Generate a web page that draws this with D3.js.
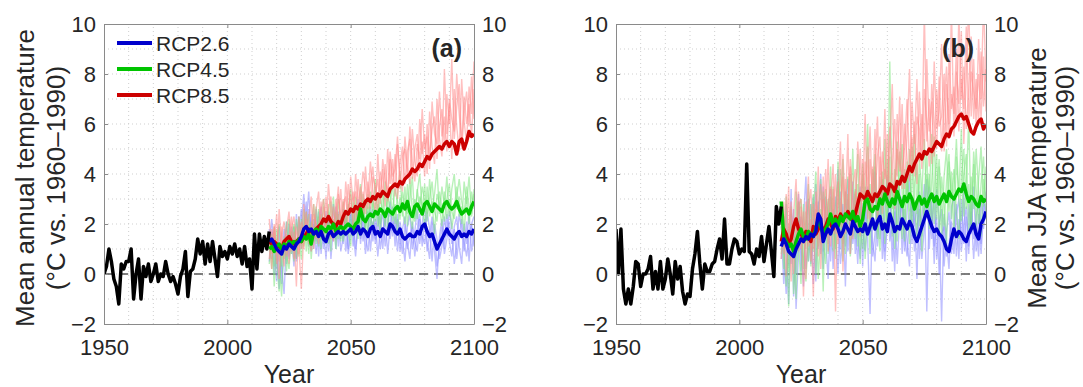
<!DOCTYPE html>
<html>
<head>
<meta charset="utf-8">
<script src="https://cdn.jsdelivr.net/npm/d3@7"></script>
<style>
  body { margin: 0; background: #fff; }
  text { font-family: Arial, "Liberation Sans", sans-serif; fill: #262626; }
</style>
</head>
<body>
<svg id="chart" width="1083" height="387"></svg>
<script>
// ---- data ----
const obsStart = 1950;
const projStart = 2017;
const xTicks = [1950, 2000, 2050, 2100];
const yTicks = [-2, 0, 2, 4, 6, 8, 10];
const scenarios = ['RCP2.6', 'RCP4.5', 'RCP8.5'];

// observed, 1950-2017
const obsAnnual = [
  0.0, 0.3, 1.0, 0.5, -0.2, -0.5, -1.2, 0.4, 0.2, 0.5,
  0.5, 1.0, -1.0, 0.0, 0.6, -1.0, 0.3, -0.1, 0.4, -0.3,
  0.0, 0.4, -0.3, 0.0, -0.1, 0.5, 0.0, -0.3, -0.1, -0.4,
  -0.8, -0.1, 0.2, 0.9, -0.9, 0.1, 0.2, 0.6, 1.4, 0.8,
  1.3, 0.4, 1.2, 0.5, 1.3, 0.6, -0.1, 1.1, 0.7, 0.9,
  0.6, 1.1, 0.8, 1.2, 0.7, 1.0, 0.4, 1.1, 0.3, 0.6,
  -0.6, 1.6, 0.2, 1.6, 0.9, 1.5, 1.0, 1.7
];
const obsJJA = [
  1.8, 0.0, 1.8, -0.6, -1.2, -0.6, -1.2, -0.5, 0.5, 0.4,
  -0.5, 0.0, 0.0, 0.2, 0.7, -0.6, 0.1, -0.6, 0.5, -0.6,
  -0.2, 0.6, 0.0, -0.8, 0.5, -0.2, 0.3, -0.7, -1.2, -0.8,
  -0.9, 0.2, 0.8, 1.7, 0.4, -0.6, 0.4, 0.1, 0.1, 0.4,
  0.5, 1.0, 1.4, 0.6, 2.2, 0.4, 0.4, 1.0, 1.4, 1.3,
  0.8, 1.0, 0.9, 4.4, 0.9, 0.8, 0.4, 1.0, 0.7, 1.5,
  0.5, 1.2, 1.9, 0.9, -0.1, 2.7, 2.0, 2.7
];

// ensemble means, 2017-2100
const rcp26Annual = [
  1.3, 1.4, 1.2, 1.0, 0.9, 0.8, 1.1, 1.0, 1.2, 1.1,
  1.0, 1.2, 1.3, 1.5, 1.8, 1.9, 1.7, 1.8, 1.6, 1.7,
  1.5, 1.7, 1.4, 1.3, 1.6, 1.7, 1.5, 1.6, 1.7, 1.6,
  1.7, 1.6, 1.7, 1.8, 1.6, 1.7, 1.9, 1.6, 1.8, 1.7,
  1.5, 1.8, 1.9, 1.6, 1.7, 1.5, 1.8, 1.7, 1.6, 2.0,
  1.9, 1.7, 1.6, 1.8, 1.5, 1.4, 1.5, 1.6, 1.5, 1.5,
  1.7, 1.6, 1.9, 2.0, 1.7, 1.5, 1.6, 1.3, 1.0, 1.2,
  1.4, 1.6, 1.8, 1.6, 1.5, 1.4, 1.6, 1.7, 1.5, 1.6,
  1.5, 1.7, 1.6, 1.8
];
const rcp45Annual = [
  1.0, 1.1, 0.9, 1.1, 1.2, 1.0, 1.2, 1.1, 1.3, 1.2,
  1.3, 1.2, 1.4, 1.3, 1.5, 1.4, 1.6, 1.2, 1.7, 1.8,
  1.6, 1.9, 1.8, 1.7, 1.9, 1.8, 2.0, 1.7, 1.8, 1.9,
  1.8, 1.9, 2.0, 1.9, 1.8, 2.0, 2.1, 2.6, 2.2, 2.1,
  2.3, 2.4, 2.3, 2.5, 2.4, 2.6, 2.5, 2.3, 2.6, 2.5,
  2.4, 2.6, 2.7, 2.5, 2.8, 2.6, 2.9, 2.5, 2.3, 2.7,
  2.8, 2.6, 2.4, 2.8, 2.9, 2.7, 2.5, 2.8, 2.7, 2.6,
  2.5, 2.8, 2.9, 2.7, 2.6, 2.7, 2.9, 2.6, 2.4, 2.5,
  2.6, 2.4, 2.7, 2.9
];
const rcp85Annual = [
  1.3, 1.2, 1.3, 1.2, 1.1, 1.0, 1.3, 1.4, 1.5, 1.3,
  1.2, 1.3, 1.4, 1.3, 1.5, 1.6, 1.8, 1.7, 1.6, 1.8,
  1.9, 2.0, 2.2, 2.1, 2.3, 2.1, 2.0, 1.9, 2.1, 2.0,
  2.3, 2.5, 2.4, 2.6, 2.5, 2.7, 2.6, 2.8, 2.7, 2.9,
  3.0, 2.9, 3.1, 3.0, 3.2, 3.1, 3.3, 3.2, 3.1, 3.4,
  3.5, 3.6, 3.5, 3.7, 3.6, 3.8, 3.9, 4.0, 4.2, 4.1,
  4.2, 4.4, 4.3, 4.5, 4.7, 4.6, 4.8, 4.9, 5.0, 5.1,
  5.0, 5.2, 5.3, 5.1, 5.3, 5.2, 4.8, 5.3, 5.4, 5.0,
  5.3, 5.7, 5.5, 5.6
];
const rcp26JJA = [
  1.1, 1.4, 1.2, 0.9, 0.8, 0.7, 1.0, 1.2, 1.4, 1.3,
  1.5, 1.4, 1.6, 1.5, 1.7, 2.4, 2.2, 1.3, 1.6, 1.8,
  1.6, 1.9, 2.0, 1.8, 1.5, 1.7, 2.0, 1.8, 1.6, 2.1,
  1.9, 1.7, 1.8, 1.7, 2.0, 1.6, 1.9, 2.2, 1.8, 2.1,
  2.3, 1.8, 2.0, 1.7, 2.4, 2.1, 1.7, 1.9, 1.8, 2.2,
  2.0, 1.8, 2.1, 1.9, 1.5, 1.3, 1.6, 1.9, 2.2, 2.5,
  2.2, 1.9, 1.7, 1.8, 1.6, 1.5, 1.3, 1.0, 0.9, 1.4,
  1.8, 1.5, 1.7, 1.6, 1.4, 1.3, 1.6, 1.8, 2.0, 1.6,
  1.4, 2.0, 2.2, 2.5
];
const rcp45JJA = [
  2.9, 1.5, 1.3, 1.1, 1.2, 0.9, 1.3, 1.6, 1.8, 1.5,
  1.4, 1.7, 1.6, 1.5, 1.8, 2.2, 1.9, 1.6, 1.8, 2.0,
  2.4, 2.0, 2.2, 1.9, 2.3, 2.1, 2.4, 2.3, 2.2, 2.5,
  2.1, 2.3, 1.9, 2.2, 2.9, 3.0, 2.6, 2.5, 2.7, 2.6,
  3.0, 2.8, 3.2, 2.9, 2.7, 3.0, 2.8, 3.3, 3.0, 2.7,
  3.1, 2.9, 3.2, 3.0, 2.6, 2.9, 3.1, 2.8, 3.0, 2.7,
  3.0, 3.2, 2.9, 3.1, 2.8, 3.0, 3.2, 2.9, 3.3, 3.1,
  3.0, 3.2, 3.4, 3.3, 3.6, 3.2, 2.9, 3.1, 3.0, 2.8,
  2.7, 3.1, 2.9, 3.0
];
const rcp85JJA = [
  1.3, 1.8, 1.6, 1.2, 1.4, 1.9, 2.2, 1.8, 1.6, 1.4,
  1.7, 1.5, 1.3, 1.9, 1.6, 1.8, 2.0, 1.7, 1.9, 2.2,
  2.0, 1.8, 2.3, 2.1, 2.4, 2.2, 2.3, 2.5, 2.3, 2.1,
  2.4, 2.8, 3.2, 3.1, 3.0, 3.3, 3.1, 2.9, 3.2, 3.1,
  3.3, 3.5, 3.4, 3.2, 3.6, 3.5, 3.3, 3.7, 3.6, 3.9,
  3.7, 4.0, 4.3, 4.1, 4.4, 4.6, 4.8, 4.6, 4.9, 4.8,
  5.0, 4.9, 5.1, 5.3, 5.2, 5.1, 5.4, 5.6, 5.5, 5.8,
  5.9, 6.1, 6.3, 6.4, 6.2, 6.3, 6.0, 5.7, 5.6, 5.9,
  6.1, 6.2, 5.8, 6.0
];

// individual model runs (a few per scenario), 2017-2100
const rcp26AnnualRuns = [
  [1.8, 0.6, 1.5, 0.2, 1.9, -0.4, 1.0, 2.1, 0.7, 1.6,
   0.3, 2.4, 1.1, 2.0, 3.2, 1.4, 2.6, 0.9, 2.2, 1.3,
   2.5, 0.8, 1.9, 0.6, 2.3, 1.5, 2.8, 1.0, 2.1, 1.4,
   2.6, 0.9, 1.7, 2.4, 1.1, 2.0, 3.0, 1.2, 2.3, 0.8,
   1.9, 2.7, 1.3, 2.2, 0.7, 1.8, 2.5, 1.1, 2.0, 2.9,
   1.5, 2.3, 0.9, 2.1, 1.4, 0.5, 1.9, 2.4, 1.0, 1.7,
   2.6, 1.2, 2.0, 2.8, 1.3, 0.6, 2.1, 0.9, -0.2, 1.5,
   2.2, 1.0, 2.4, 1.3, 0.7, 1.9, 2.3, 1.1, 0.4, 2.0,
   1.2, 2.5, 0.9, 1.6],
  [0.5, 1.7, 0.0, 1.3, -0.6, 0.9, 1.8, 0.4, 2.0, 0.8,
   1.9, 0.6, 2.3, 1.0, 2.0, 2.9, 1.1, 2.4, 1.0, 2.6,
   0.7, 2.2, 1.2, 2.5, 0.9, 2.0, 1.3, 2.7, 1.1, 2.3,
   1.2, 2.5, 0.8, 1.6, 2.4, 1.0, 1.9, 2.6, 1.3, 2.2,
   2.5, 0.9, 2.1, 1.4, 2.6, 1.0, 1.7, 2.3, 0.8, 1.9,
   2.7, 1.1, 2.2, 1.5, 0.8, 2.0, 1.2, 0.6, 2.1, 1.3,
   0.9, 2.2, 1.5, 1.2, 2.5, 1.8, 0.5, 2.0, 1.4, 0.6,
   1.1, 2.3, 1.5, 2.5, 1.9, 0.4, 1.2, 2.4, 1.8, 0.9,
   2.1, 0.5, 2.0, 2.3],
  [1.2, 2.2, 0.9, -0.3, 1.1, 0.3, -0.8, 1.5, 0.6, 1.9,
   1.2, 0.5, 1.7, 2.6, 1.3, 2.1, 3.3, 1.5, 2.0, 0.8,
   1.8, 2.7, 1.0, 1.6, 2.4, 0.6, 1.9, 1.4, 2.5, 0.9,
   1.5, 2.1, 1.0, 2.6, 1.7, 0.7, 2.2, 1.4, 2.7, 1.5,
   0.9, 2.0, 2.6, 1.2, 1.9, 2.4, 1.0, 2.2, 2.7, 1.4,
   2.1, 1.6, 2.4, 0.9, 1.8, 2.3, 1.0, 1.5, 1.9, 0.7,
   1.8, 2.4, 1.1, 2.2, 0.9, 1.6, 2.3, 1.7, 0.3, 1.0,
   1.9, 0.8, 1.4, 2.1, 1.2, 1.8, 0.6, 1.5, 2.2, 1.3,
   0.7, 1.6, 2.0, 1.1]
];
const rcp45AnnualRuns = [
  [0.4, 1.6, -0.5, 1.2, 2.0, 0.3, 1.5, 0.1, 2.2, 0.8,
   1.9, 0.6, 2.3, 1.1, 2.6, 0.9, 2.0, 1.5, 2.8, 1.2,
   2.3, 1.0, 3.0, 1.6, 2.5, 0.9, 3.1, 1.7, 2.4, 1.3,
   2.9, 1.5, 2.6, 3.4, 1.8, 2.7, 1.4, 3.6, 2.2, 3.0,
   1.6, 3.3, 2.5, 3.8, 1.9, 3.1, 2.4, 3.7, 1.8, 2.9,
   3.6, 2.0, 3.2, 4.1, 2.3, 3.5, 1.9, 3.0, 3.9, 2.2,
   3.3, 4.0, 2.5, 3.6, 2.1, 3.8, 2.6, 3.2, 4.2, 2.4,
   3.5, 2.7, 3.9, 2.3, 3.4, 4.0, 2.6, 3.1, 2.0, 3.7,
   2.8, 3.9, 2.4, 3.4],
  [1.5, 0.2, 1.9, 0.5, -0.7, 1.3, 0.6, 2.1, 0.9, 1.7,
   0.5, 2.2, 1.4, 0.6, 1.9, 2.5, 0.8, 2.1, 1.3, 2.7,
   1.1, 2.4, 1.9, 1.2, 2.8, 1.5, 2.2, 1.0, 3.0, 2.1,
   1.3, 2.4, 1.7, 1.1, 2.9, 1.9, 2.6, 1.5, 3.2, 1.8,
   2.7, 1.9, 3.0, 2.1, 2.8, 1.6, 3.4, 2.2, 2.9, 3.5,
   2.1, 2.8, 1.7, 3.1, 2.5, 2.0, 3.6, 2.4, 1.8, 3.0,
   2.2, 3.1, 2.7, 1.9, 3.5, 2.3, 2.9, 1.6, 3.2, 2.8,
   1.9, 3.3, 2.2, 3.0, 1.8, 2.6, 3.5, 2.3, 2.7, 1.7,
   3.1, 2.0, 3.3, 2.6],
  [0.9, 1.2, 0.3, 1.8, 0.6, -0.9, 1.4, 0.8, 0.2, 1.6,
   2.0, 1.0, 0.7, 2.2, 1.1, 1.7, 2.4, 0.6, 1.9, 1.5,
   2.6, 1.4, 1.7, 2.3, 1.2, 2.9, 1.6, 2.5, 1.4, 2.0,
   2.5, 1.6, 2.8, 2.0, 1.5, 3.1, 2.3, 2.0, 2.9, 1.7,
   3.2, 2.4, 1.8, 2.8, 3.1, 2.0, 2.6, 1.9, 3.3, 2.3,
   2.6, 3.4, 2.9, 2.2, 3.3, 2.7, 2.4, 3.8, 2.6, 2.1,
   3.4, 2.6, 3.5, 2.9, 2.4, 3.0, 3.7, 2.5, 2.1, 3.3,
   2.6, 2.1, 3.0, 3.6, 2.5, 2.2, 3.1, 3.8, 2.9, 2.4,
   3.5, 2.7, 2.3, 3.2]
];
const rcp85AnnualRuns = [
  [2.2, 0.8, 1.9, 0.4, 2.6, 1.1, 0.3, 1.8, 2.5, 0.9,
   1.7, -0.5, 2.3, 1.0, 2.8, 1.4, 2.2, 3.1, 1.0, 2.6,
   3.3, 1.5, 2.7, 1.8, 3.6, 2.4, 1.3, 3.0, 2.0, 3.4,
   1.8, 3.7, 2.5, 3.2, 1.9, 4.0, 2.8, 3.5, 2.2, 4.3,
   2.9, 4.5, 3.3, 2.4, 4.8, 3.0, 4.2, 2.7, 5.0, 3.6,
   4.6, 3.1, 5.2, 4.0, 3.3, 5.5, 4.3, 3.6, 5.8, 4.5,
   3.9, 6.2, 4.8, 5.6, 4.0, 6.5, 5.1, 4.4, 7.0, 5.4,
   4.7, 8.2, 5.6, 6.8, 4.6, 7.4, 5.9, 4.9, 7.8, 6.1,
   5.2, 7.5, 6.4, 8.5],
  [0.6, 1.8, 1.2, 2.4, 0.5, 1.6, 2.1, 0.7, 1.4, 2.3,
   0.6, 1.9, 1.1, -0.6, 1.7, 2.5, 1.2, 1.9, 2.8, 1.4,
   1.9, 2.9, 1.6, 3.1, 2.0, 1.4, 2.7, 1.6, 3.2, 2.3,
   3.0, 2.0, 3.6, 2.4, 3.3, 2.1, 3.8, 2.5, 3.3, 2.4,
   3.7, 2.6, 3.9, 3.5, 2.5, 4.1, 3.2, 4.4, 2.9, 4.6,
   3.4, 4.8, 3.0, 4.4, 5.1, 3.6, 4.9, 5.4, 3.8, 5.0,
   5.6, 4.1, 5.3, 3.9, 6.0, 4.7, 5.8, 6.3, 4.6, 5.9,
   6.6, 5.1, 7.2, 6.0, 8.6, 5.4, 6.7, 7.6, 5.0, 6.4,
   7.3, 5.9, 7.9, 6.2],
  [1.5, 0.2, 2.0, 1.0, -0.2, 1.9, 0.9, 1.6, 0.4, 1.8,
   2.3, 1.3, 0.8, 2.1, 1.0, 2.2, 1.6, 0.9, 2.4, 2.0,
   1.2, 2.5, 3.0, 1.9, 2.6, 3.1, 1.7, 2.4, 3.5, 1.8,
   2.7, 3.1, 2.0, 3.9, 2.9, 3.3, 2.2, 3.0, 4.1, 3.4,
   2.6, 3.6, 4.3, 3.1, 3.8, 2.8, 4.6, 3.7, 3.3, 4.9,
   3.9, 4.2, 5.5, 3.4, 4.7, 5.0, 3.9, 5.9, 4.5, 3.7,
   5.2, 4.6, 6.6, 5.0, 5.5, 4.2, 6.9, 5.6, 5.2, 7.3,
   5.5, 6.3, 4.9, 7.0, 6.2, 5.7, 8.0, 6.4, 5.3, 7.1,
   6.0, 6.8, 5.5, 7.4]
];
const rcp26JJARuns = [
  [1.9, -0.4, 2.8, 0.3, 3.4, -0.9, 1.6, 2.9, 0.1, 2.2,
   3.9, 0.5, 1.8, 3.1, -0.3, 2.5, 4.0, 0.9, 2.7, 1.2,
   3.4, 0.2, 2.1, 4.2, 1.0, 2.8, -0.5, 3.0, 1.6, 3.7,
   0.8, 2.4, 3.5, 0.3, 2.9, 1.4, -1.6, 2.6, 4.1, 1.1,
   3.2, 0.6, 2.7, 3.9, 1.3, 2.2, 0.1, 3.6, 1.8, 3.0,
   0.9, 2.5, 4.0, 1.2, 2.8, -0.2, 3.3, 1.5, 2.6, 3.8,
   1.0, 2.9, 0.4, 3.4, 2.1, -1.9, 2.4, 1.3, 0.2, 2.7,
   3.1, 0.7, 2.2, 1.5, 3.3, 0.5, 2.8, 1.6, 3.5, 0.9,
   2.4, 1.2, 3.0, 2.2],
  [0.6, 2.3, 1.0, -1.2, 2.4, 1.5, 0.0, 3.2, 1.1, -0.5,
   2.0, 3.0, 0.4, 1.7, 3.6, 1.0, 2.3, 0.2, 3.1, 2.4,
   0.5, 2.6, 1.5, 0.0, 3.3, 2.2, 1.1, 3.8, 0.8, 2.0,
   3.2, 1.5, 0.6, 2.8, 1.9, 3.5, 2.3, 0.7, 1.6, 3.3,
   1.4, 3.5, 0.9, 2.4, 3.0, 0.5, 2.9, 1.7, 3.4, 0.8,
   2.6, 1.3, 0.3, 3.1, 1.9, 2.7, 0.6, 2.2, 3.6, -1.5,
   2.8, 1.4, 3.2, 0.6, 2.0, 2.6, 0.3, 1.7, 2.5, 0.8,
   1.9, 2.8, 0.6, 3.0, 1.2, 2.3, 0.8, 2.9, 1.4, 2.1,
   0.7, 3.1, 1.8, 2.8],
  [1.4, 0.9, -0.8, 1.8, 0.4, 2.6, -1.4, 0.8, 2.3, 1.7,
   0.2, 1.5, 2.8, -0.4, 1.9, 2.9, 0.8, 3.5, 1.4, -0.2,
   2.4, 1.7, 3.1, 2.0, 0.4, 1.5, 3.3, 0.9, 2.5, 1.2,
   2.1, 0.4, 2.7, 1.8, 0.9, 2.4, 3.0, 1.3, 0.5, 2.6,
   2.9, 1.8, 0.5, 2.1, 3.4, 1.6, 2.5, 0.4, 2.2, 3.1,
   1.5, 0.7, 2.4, 3.0, 0.9, 1.9, 2.6, 0.6, 1.8, 2.9,
   3.5, 2.4, 1.1, 2.3, 0.0, 1.6, 1.9, 0.7, 1.2, 2.1,
   0.8, 2.4, 3.0, 0.9, 2.0, 2.7, 1.1, 2.5, 0.6, 2.3,
   2.9, 0.8, 2.5, 3.3]
];
const rcp45JJARuns = [
  [2.5, 0.2, 3.1, -1.3, 1.9, 0.6, 3.3, 1.2, -0.4, 2.8,
   1.0, 3.6, 0.3, 2.4, 4.1, 1.1, 2.6, -0.7, 3.4, 2.0,
   4.3, 0.9, 2.8, 3.7, 1.5, 4.6, 0.8, 3.2, 2.1, 5.0,
   1.4, 3.6, 0.4, 4.4, 2.5, 6.0, 1.9, 3.3, 4.8, 1.7,
   3.9, 2.2, 5.4, 1.6, 8.5, 2.6, 4.2, 1.3, 3.8, 5.2,
   2.0, 4.5, 1.2, 3.5, 5.6, 2.4, 4.0, 0.9, 3.1, 4.9,
   1.8, 3.7, 5.5, 2.2, 4.3, 1.4, 3.9, 5.0, 2.5, 4.1,
   1.6, 4.7, 3.0, 5.8, 2.3, 3.5, 6.2, 2.0, 4.4, 1.9,
   3.8, 5.1, 2.7, 4.3],
  [0.8, 2.4, 1.6, 0.1, 2.7, -0.8, 1.0, 2.9, 1.7, 0.2,
   2.5, 0.5, 1.9, 3.2, 0.0, 2.2, 3.8, 1.3, 0.4, 3.0,
   1.5, 3.5, 0.6, 2.3, 4.2, 1.2, 2.9, 3.9, 0.7, 2.6,
   3.4, 1.1, 2.8, 4.0, 0.6, 2.5, 3.6, 1.8, 4.3, 2.2,
   0.9, 4.1, 3.0, 2.0, 4.7, 1.5, 3.4, 5.3, 2.6, 1.4,
   4.2, 2.8, 5.0, 1.7, 3.6, 4.4, 1.9, 3.2, 5.4, 2.6,
   4.0, 2.1, 3.3, 4.8, 1.6, 3.9, 2.8, 1.2, 4.5, 3.0,
   4.2, 2.5, 1.4, 3.8, 5.0, 2.6, 3.6, 1.8, 4.9, 3.4,
   2.0, 3.6, 4.7, 2.4],
  [1.9, 1.1, -0.5, 2.0, 0.9, 1.5, -1.0, 2.2, 3.0, 0.7,
   -0.3, 1.8, 2.8, 0.9, 2.6, -0.2, 1.7, 3.3, 2.4, 0.8,
   3.1, 2.1, 1.0, 4.5, 2.4, 0.5, 3.3, 2.0, 4.0, 1.5,
   2.7, 4.8, 1.8, 1.0, 3.5, 2.9, 0.8, 4.2, 3.2, 1.4,
   2.5, 3.8, 1.2, 4.6, 2.9, 3.6, 1.0, 2.7, 4.9, 3.3,
   1.3, 3.9, 2.5, 5.1, 2.8, 1.5, 4.6, 3.3, 2.0, 4.0,
   3.1, 5.6, 2.0, 3.5, 4.6, 2.7, 1.9, 3.7, 4.8, 2.2,
   3.5, 5.4, 2.9, 2.1, 4.0, 4.8, 1.6, 3.9, 2.6, 5.0,
   3.3, 1.5, 3.8, 2.9]
];
const rcp85JJARuns = [
  [0.6, 2.9, 1.2, 3.5, -0.3, 2.4, 3.8, 0.9, 2.7, -0.9,
   2.1, 3.9, 0.5, 2.8, 1.4, 4.3, 0.2, 3.0, 2.2, 4.6,
   1.1, 3.4, -1.5, 3.7, 1.9, 4.8, 2.5, 5.6, 0.8, 3.5,
   4.2, 1.6, 5.0, 2.9, 6.4, 2.2, 4.6, 3.0, 5.8, 1.9,
   4.7, 3.3, 6.6, 2.7, 5.2, 7.6, 3.1, 5.0, 4.1, 6.8,
   3.4, 5.7, 8.2, 4.0, 6.1, 3.6, 7.3, 4.8, 10.5, 5.3,
   7.0, 4.4, 8.5, 5.8, 6.5, 9.2, 4.9, 7.6, 6.0, 10.6,
   5.5, 8.1, 6.8, 9.7, 5.2, 7.9, 10.8, 6.3, 8.6, 5.9,
   9.4, 7.0, 10.9, 7.7],
  [2.0, 0.8, 3.2, 1.5, 2.6, 0.0, 2.1, 3.3, 1.0, 2.5,
   -0.2, 2.6, 3.4, 1.0, 2.9, 0.7, 3.6, 1.8, 4.2, 0.9,
   2.8, 4.4, 1.6, 3.0, 5.3, 0.1, 3.8, 2.2, 4.6, 3.1,
   2.0, 5.3, 3.7, 1.8, 4.5, 3.4, 5.9, 2.6, 4.0, 6.3,
   2.9, 4.9, 3.8, 5.6, 3.0, 4.4, 6.2, 3.9, 7.1, 3.4,
   6.0, 4.6, 3.7, 6.9, 5.2, 7.8, 4.5, 6.4, 5.0, 8.6,
   5.7, 6.9, 4.7, 7.4, 5.9, 6.3, 8.0, 5.1, 8.8, 6.6,
   7.5, 5.9, 10.4, 7.0, 8.3, 5.8, 7.4, 9.5, 6.2, 7.8,
   6.0, 8.9, 6.7, 8.2],
  [1.5, 2.3, -0.1, 1.9, 2.9, 0.7, 1.6, 2.7, 3.0, 1.2,
   2.9, 1.1, 2.2, -0.9, 3.3, 2.0, 1.2, 3.9, 1.5, 2.8,
   3.5, 2.1, 4.0, 1.2, 2.6, 3.9, 1.6, 2.9, 4.3, 1.4,
   3.3, 2.7, 1.5, 4.6, 2.6, 5.1, 1.8, 4.3, 3.1, 4.7,
   5.5, 2.4, 4.2, 3.6, 5.9, 3.8, 2.6, 6.4, 4.5, 3.9,
   5.1, 7.0, 4.3, 5.5, 3.9, 6.3, 5.8, 4.2, 7.4, 6.0,
   4.3, 7.6, 6.1, 5.0, 7.9, 4.9, 6.8, 8.3, 5.4, 7.2,
   6.4, 9.0, 5.7, 7.8, 6.6, 9.9, 6.0, 8.1, 7.3, 6.6,
   8.0, 6.2, 8.7, 6.5]
];

// ---- styling ----
const plotW = 370, plotTop = 24, plotBottom = 324;
const meanColors = ['#0000cc', '#00c400', '#cc0000'];
const runColors = ['#8c8cff', '#80e680', '#ff8c8c'];

const panels = [
  { left: 104, tag: '(a)', obs: obsAnnual,
    means: [rcp26Annual, rcp45Annual, rcp85Annual],
    runs: [rcp26AnnualRuns, rcp45AnnualRuns, rcp85AnnualRuns],
    labels: ['Mean annual temperature', '(°C vs. 1960–1990)'],
    labelX: [34, 65], legend: true },
  { left: 616, tag: '(b)', obs: obsJJA,
    means: [rcp26JJA, rcp45JJA, rcp85JJA],
    runs: [rcp26JJARuns, rcp45JJARuns, rcp85JJARuns],
    labels: ['Mean JJA temperature', '(°C vs. 1960–1990)'],
    labelX: [1046, 1074], legend: false }
];

const svg = d3.select('#chart');

panels.forEach((p, pi) => {
  const x = d3.scaleLinear().domain([1950, 2100]).range([p.left, p.left + plotW]);
  const y = d3.scaleLinear().domain([-2, 10]).range([plotBottom, plotTop]);
  const g = svg.append('g');

  const clipId = 'clip' + pi;
  svg.append('clipPath').attr('id', clipId)
    .append('rect')
    .attr('x', x(1950)).attr('y', y(10))
    .attr('width', plotW).attr('height', plotBottom - plotTop);

  // dotted grid
  const grid = g.append('g').attr('stroke', '#cfcfcf').attr('stroke-width', 1)
    .attr('stroke-dasharray', '1,3');
  grid.selectAll('line.v').data(d3.range(1960, 2100, 10)).join('line')
    .attr('x1', d => x(d)).attr('x2', d => x(d))
    .attr('y1', y(-2)).attr('y2', y(10));
  grid.selectAll('line.h').data(d3.range(-1, 10, 1)).join('line')
    .attr('x1', x(1950)).attr('x2', x(2100))
    .attr('y1', d => y(d)).attr('y2', d => y(d));

  // zero line
  g.append('line')
    .attr('x1', x(1950)).attr('x2', x(2100))
    .attr('y1', y(0)).attr('y2', y(0))
    .attr('stroke', '#555').attr('stroke-width', 1.3)
    .attr('stroke-dasharray', '9,6');

  const plot = g.append('g').attr('clip-path', `url(#${clipId})`);
  const projLine = d3.line().x((d, i) => x(projStart + i)).y(d => y(d));
  const obsLine = d3.line().x((d, i) => x(obsStart + i)).y(d => y(d));

  // individual runs
  p.runs.forEach((set, si) => {
    set.forEach(run => {
      plot.append('path').datum(run)
        .attr('d', projLine)
        .attr('fill', 'none')
        .attr('stroke', runColors[si])
        .attr('stroke-width', 1.4)
        .attr('stroke-opacity', 0.55);
    });
  });

  // ensemble means (red underneath, blue on top)
  [2, 1, 0].forEach(si => {
    plot.append('path').datum(p.means[si])
      .attr('d', projLine)
      .attr('fill', 'none')
      .attr('stroke', meanColors[si])
      .attr('stroke-width', 3.5)
      .attr('stroke-linejoin', 'round');
  });

  // observations
  plot.append('path').datum(p.obs)
    .attr('d', obsLine)
    .attr('fill', 'none')
    .attr('stroke', '#000')
    .attr('stroke-width', 3.5)
    .attr('stroke-linejoin', 'round');

  // axes (ticks inward, box)
  const styleAxis = sel => {
    sel.select('.domain').attr('stroke', '#8a8a8a');
    sel.selectAll('.tick line').attr('stroke', '#8a8a8a');
    sel.selectAll('text').attr('font-size', 22).attr('fill', '#262626')
      .attr('font-family', 'Arial, "Liberation Sans", sans-serif');
  };
  g.append('g').attr('transform', `translate(0,${plotBottom})`)
    .call(d3.axisBottom(x).tickValues(xTicks).tickFormat(d3.format('d'))
      .tickSizeInner(-4).tickSizeOuter(0).tickPadding(15))
    .call(styleAxis);
  g.append('g').attr('transform', `translate(0,${plotTop})`)
    .call(d3.axisTop(x).tickValues(xTicks).tickFormat('')
      .tickSizeInner(-4).tickSizeOuter(0))
    .call(styleAxis);
  g.append('g').attr('transform', `translate(${x(1950)},0)`)
    .call(d3.axisLeft(y).tickValues(yTicks).tickSizeInner(-4).tickSizeOuter(0).tickPadding(8))
    .call(styleAxis);
  g.append('g').attr('transform', `translate(${x(2100)},0)`)
    .call(d3.axisRight(y).tickValues(yTicks).tickSizeInner(-4).tickSizeOuter(0).tickPadding(8))
    .call(styleAxis);

  // x label
  g.append('text')
    .attr('x', x(2025)).attr('y', 383)
    .attr('text-anchor', 'middle')
    .attr('font-size', 25)
    .text('Year');

  // y labels (rotated)
  p.labels.forEach((lab, li) => {
    g.append('text')
      .attr('transform', `translate(${p.labelX[li]},${178}) rotate(-90)`)
      .attr('text-anchor', 'middle')
      .attr('font-size', 26)
      .text(lab);
  });

  // panel tag
  g.append('text')
    .attr('x', x(2100) - 12).attr('y', 57)
    .attr('text-anchor', 'end')
    .attr('font-size', 25)
    .attr('font-weight', 'bold')
    .text(p.tag);

  // legend
  if (p.legend) {
    const leg = g.append('g');
    scenarios.forEach((s, si) => {
      const ly = 43 + si * 26;
      leg.append('line')
        .attr('x1', 117).attr('x2', 152)
        .attr('y1', ly).attr('y2', ly)
        .attr('stroke', meanColors[si]).attr('stroke-width', 4);
      leg.append('text')
        .attr('x', 156).attr('y', ly + 8)
        .attr('font-size', 21)
        .text(s);
    });
  }
});
</script>
</body>
</html>
